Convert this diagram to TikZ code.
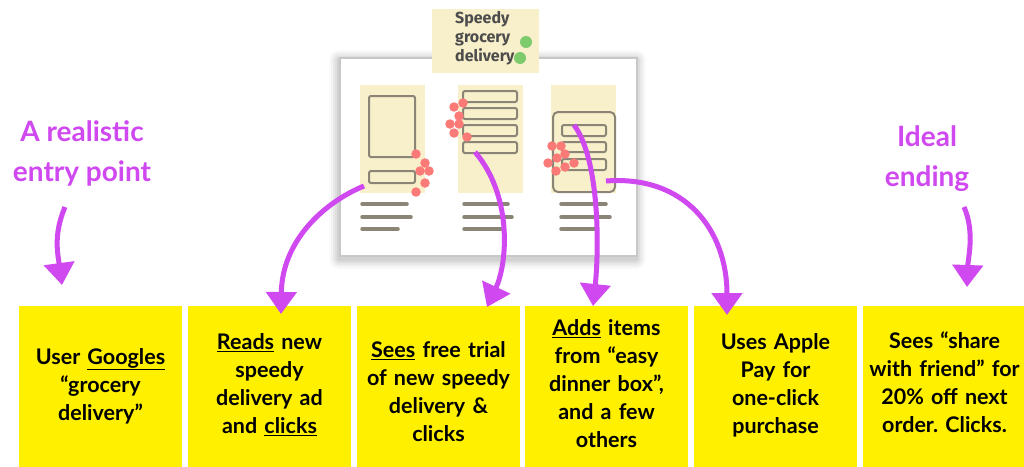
\documentclass[tikz,border=0pt]{standalone}
\usepackage{fontspec}
\setmainfont{Lato}
\newfontfamily\handfont{Fira Sans}
\usetikzlibrary{arrows.meta,calc}
\definecolor{sticky}{HTML}{FFF000}
\definecolor{purp}{HTML}{CF48F0}
\definecolor{cream}{HTML}{F8F0CB}
\definecolor{wire}{HTML}{8A8577}
\definecolor{dotred}{HTML}{FA7A78}
\definecolor{dotgreen}{HTML}{7ECB6E}
\definecolor{framegray}{HTML}{C8C8C8}
\frenchspacing
\begin{document}
\begin{tikzpicture}[x=1pt,y=-1pt,
  stickybox/.style={fill=sticky,draw=none,minimum width=163pt,minimum height=170pt,anchor=north west,inner sep=0pt},
  boxtext/.style={font=\fontsize{21.5}{28}\selectfont\bfseries,align=center,text width=160pt,inner sep=0pt},
  purplabel/.style={font=\fontsize{28}{40}\selectfont\bfseries,text=purp,align=center,inner sep=0pt},
  flow/.style={draw=purp,line width=5pt,-{Triangle[length=22pt,width=30pt]}},
  wirebox/.style={draw=wire,line width=2pt,rounded corners=2pt},
  wireline/.style={draw=wire,line width=3.5pt,line cap=round},
  rdot/.style={circle,fill=dotred,inner sep=0pt,minimum size=9.5pt},
  gdot/.style={circle,fill=dotgreen,inner sep=0pt,minimum size=12pt},
  panel/.style={fill=cream,draw=none,minimum width=65pt,minimum height=108pt,anchor=north west,inner sep=0pt}]
\useasboundingbox[fill=white] (0,0) rectangle (1024,466);

% frame with soft shadow
\foreach \d/\o in {10/0.02,8/0.03,6/0.035,4/0.045,2/0.05}{
  \fill[black,opacity=\o,rounded corners=\d pt] (339-\d,57-\d+3) rectangle (636+\d,255+\d+4);
}
\node[draw=framegray,line width=2pt,fill=white,minimum width=297pt,minimum height=198pt,anchor=north west,inner sep=0pt] (frame) at (339,57) {};

% panels
\node[panel] (pan1) at (360,85) {};
\node[panel] (pan2) at (458,85) {};
\node[panel] (pan3) at (551,85) {};

% panel 1 content
\draw[wirebox] (369,96) rectangle (415,157);
\draw[wirebox] (369,171) rectangle (415,183);
\draw[wireline] (362,204) -- (407,204);
\draw[wireline] (362,217) -- (411,217);
\draw[wireline] (362,229) -- (398,229);

% panel 2 content
\foreach \ya/\yb in {91/102,108/119,125/136,142/153}{
  \draw[wirebox] (463,\ya) rectangle (517,\yb);
}
\draw[wireline] (464,204) -- (508,204);
\draw[wireline] (464,217) -- (512,217);
\draw[wireline] (464,229) -- (501,229);

% panel 3 content
\draw[wirebox,rounded corners=5pt] (553,112) rectangle (615,192);
\foreach \ya/\yb in {125/136,142/152,159/170}{
  \draw[wirebox] (562,\ya) rectangle (606,\yb);
}
\draw[wireline] (561,204) -- (606,204);
\draw[wireline] (561,217) -- (610,217);
\draw[wireline] (561,229) -- (595,229);

% red dots
\foreach \x/\y in {416/154,425/163,420/171,429/171,425/183,416/192}{
  \node[rdot] at (\x,\y) {};
}
\foreach \x/\y in {463/103,454/107,459/116,450/124,459/124,454/133,467/137}{
  \node[rdot] at (\x,\y) {};
}
\foreach \x/\y in {552/146,561/146,565/154,557/158,548/163,574/163,565/167,556/171}{
  \node[rdot] at (\x,\y) {};
}

% title sticky note
\node[fill=cream,minimum width=107pt,minimum height=64pt,anchor=north west,inner sep=0pt] (title) at (432,9) {};
\node[anchor=north west,inner sep=0pt,align=left,text=black!70,font=\handfont\fontsize{16}{19}\selectfont\bfseries] (titletext) at (455,11) {Speedy\\grocery\\delivery};
\node[gdot] (g1) at (526,42) {};
\node[gdot] (g2) at (520,58) {};

% sticky boxes
\node[stickybox] (b1) at (19,306) {};
\node[stickybox] (b2) at (188,306) {};
\node[stickybox] (b3) at (357,306) {};
\node[stickybox] (b4) at (525,306) {};
\node[stickybox] (b5) at (694,306) {};
\node[stickybox] (b6) at (863,306) {};

\node[boxtext] (t1) at (100.5,386) {User \underline{Googles}\\“grocery\\delivery”};
\node[boxtext] (t2) at (269.5,385) {\underline{Reads} new\\speedy\\delivery ad\\and \underline{clicks}};
\node[boxtext] (t3) at (438.5,392) {\underline{Sees} free trial\\of new speedy\\delivery \&\\clicks};
\node[boxtext] (t4) at (606.5,384) {\underline{Adds} items\\from “easy\\dinner box”,\\and a few\\others};
\node[boxtext] (t5) at (775.5,385) {Uses Apple\\Pay for\\one-click\\purchase};
\node[boxtext] (t6) at (944.5,382) {Sees “share\\with friend” for\\20\% off next\\order. Clicks.};

% purple labels
\node[purplabel] (lab1) at (82,153) {A realistic\\entry point};
\node[purplabel] (lab2) at (927,159) {Ideal\\ending};

% connector anchors
\coordinate (s1) at (364,186);
\coordinate (s2) at (475,152);
\coordinate (s3) at (574,125);
\coordinate (s4) at (606,181);
\coordinate (sl) at (65,207);
\coordinate (sr) at (964,207);
\coordinate (e1) at ($(b2.north west)+(93,8)$);
\coordinate (e2) at ($(b3.north west)+(130,1)$);
\coordinate (e3) at ($(b4.north west)+(68,0)$);
\coordinate (e4) at ($(b5.north west)+(33,9)$);
\coordinate (el) at ($(b1.north west)+(43,-21)$);
\coordinate (er) at ($(b6.north west)+(104,-19)$);

\draw[flow] (s1) .. controls (325,202) and (282,240) .. (e1);
\draw[flow] (s2) .. controls (512,195) and (508,262) .. (e2);
\draw[flow] (s3) .. controls (600,160) and (599,250) .. (e3);
\draw[flow] (s4) .. controls (685,175) and (727,230) .. (e4);
\draw[flow] (sl) .. controls (53,235) and (58,255) .. (el);
\draw[flow] (sr) .. controls (975,232) and (968,258) .. (er);
\end{tikzpicture}
\end{document}
